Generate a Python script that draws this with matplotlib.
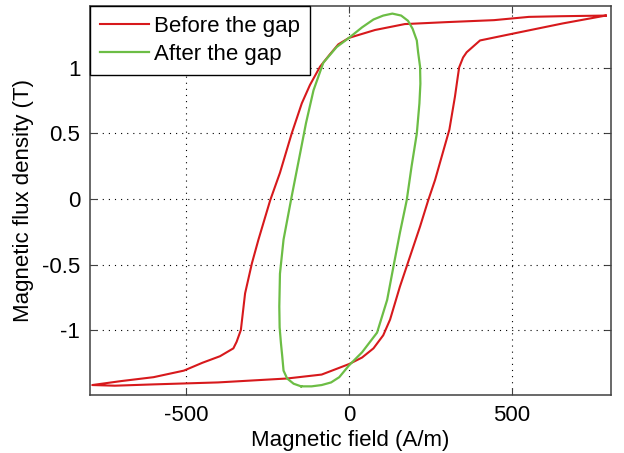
import matplotlib
matplotlib.use("Agg")
import matplotlib.pyplot as plt

# Red loop: "Before the gap" (H in A/m, B in T)
red_H = [788, 650, 552, 445, 300, 171, 80, 0, -33, -60, -89, -120, -145, -176, -212,
         -242, -278, -298, -319, -332, -345, -355, -396, -450, -507, -600, -700, -788,
         -719, -600, -402, -190, -84, 0, 40, 75, 105, 126, 156, 187, 218, 243, 264,
         284, 308, 325, 333, 338, 350, 361, 402, 499, 656, 788]
red_B = [1.40, 1.395, 1.39, 1.365, 1.35, 1.335, 1.29, 1.23, 1.18, 1.10, 1.01, 0.87, 0.73,
         0.50, 0.20, -0.01, -0.31, -0.49, -0.72, -1.00, -1.09, -1.14, -1.20, -1.25, -1.31,
         -1.36, -1.39, -1.42,
         -1.425, -1.415, -1.40, -1.37, -1.34, -1.26, -1.21, -1.14, -1.04, -0.92, -0.67,
         -0.44, -0.21, -0.01, 0.145, 0.32, 0.53, 0.78, 0.92, 1.005, 1.08, 1.12, 1.21,
         1.26, 1.34, 1.40]

# Green loop: "After the gap"
green_H = [-147, -115, -84, -55, -30, 0, 40, 86, 117, 136, 156, 177, 192, 208, 216, 219,
           218, 212, 208, 195, 181, 160, 133, 105, 75, 40, 0, -38, -79, -109, -132, -150,
           -176, -201, -212, -214, -213, -209, -205, -201, -190, -170, -147]
green_B = [-1.43, -1.43, -1.42, -1.40, -1.36, -1.27, -1.17, -1.02, -0.77, -0.52, -0.26,
           -0.01, 0.25, 0.50, 0.73, 0.88, 1.01, 1.12, 1.21, 1.30, 1.36, 1.40, 1.415, 1.40,
           1.37, 1.31, 1.23, 1.16, 1.04, 0.83, 0.58, 0.35, 0.02, -0.31, -0.57, -0.82,
           -0.98, -1.10, -1.20, -1.31, -1.37, -1.41, -1.43]

labels = ["Before the gap", "After the gap"]
x_ticks = [-500, 0, 500]
y_ticks = [-1, -0.5, 0, 0.5, 1]

plt.rcParams['font.family'] = ['Liberation Sans', 'DejaVu Sans']

fig = plt.figure(figsize=(6.24, 4.53), dpi=100)
ax = fig.add_axes([90/624, 1 - 395/453, (611-90)/624, (395-6)/453])

ax.plot(red_H, red_B, color='#d7191c', lw=1.5, label=labels[0], zorder=3)
ax.plot(green_H, green_B, color='#6cbd45', lw=1.6, label=labels[1], zorder=3)

ax.set_xlim(-795, 804)
ax.set_ylim(-1.496, 1.473)
ax.set_xticks(x_ticks)
ax.set_yticks(y_ticks)
ax.set_xticklabels([str(v) for v in x_ticks])
ax.set_yticklabels(['-1', '-0.5', '0', '0.5', '1'])

ax.grid(True, color='black', linestyle=(0, (1, 4.5)), linewidth=0.8)
ax.set_axisbelow(True)
for s in ax.spines.values():
    s.set_color('#404040')
    s.set_linewidth(1.1)
ax.tick_params(direction='in', top=True, right=True, length=5, width=0.8,
               color='#404040', labelsize=16, pad=7)

ax.set_xlabel('Magnetic field (A/m)', fontsize=16, labelpad=3)
ax.set_ylabel('Magnetic flux density (T)', fontsize=16, labelpad=6)

leg = ax.legend(loc='upper left', fontsize=16, borderaxespad=0, fancybox=False,
                edgecolor='black', framealpha=1, handlelength=2.2, handletextpad=0.25,
                labelspacing=0.32, borderpad=0.45)
leg.get_frame().set_linewidth(1.0)

fig.savefig('out.png', dpi=100)
